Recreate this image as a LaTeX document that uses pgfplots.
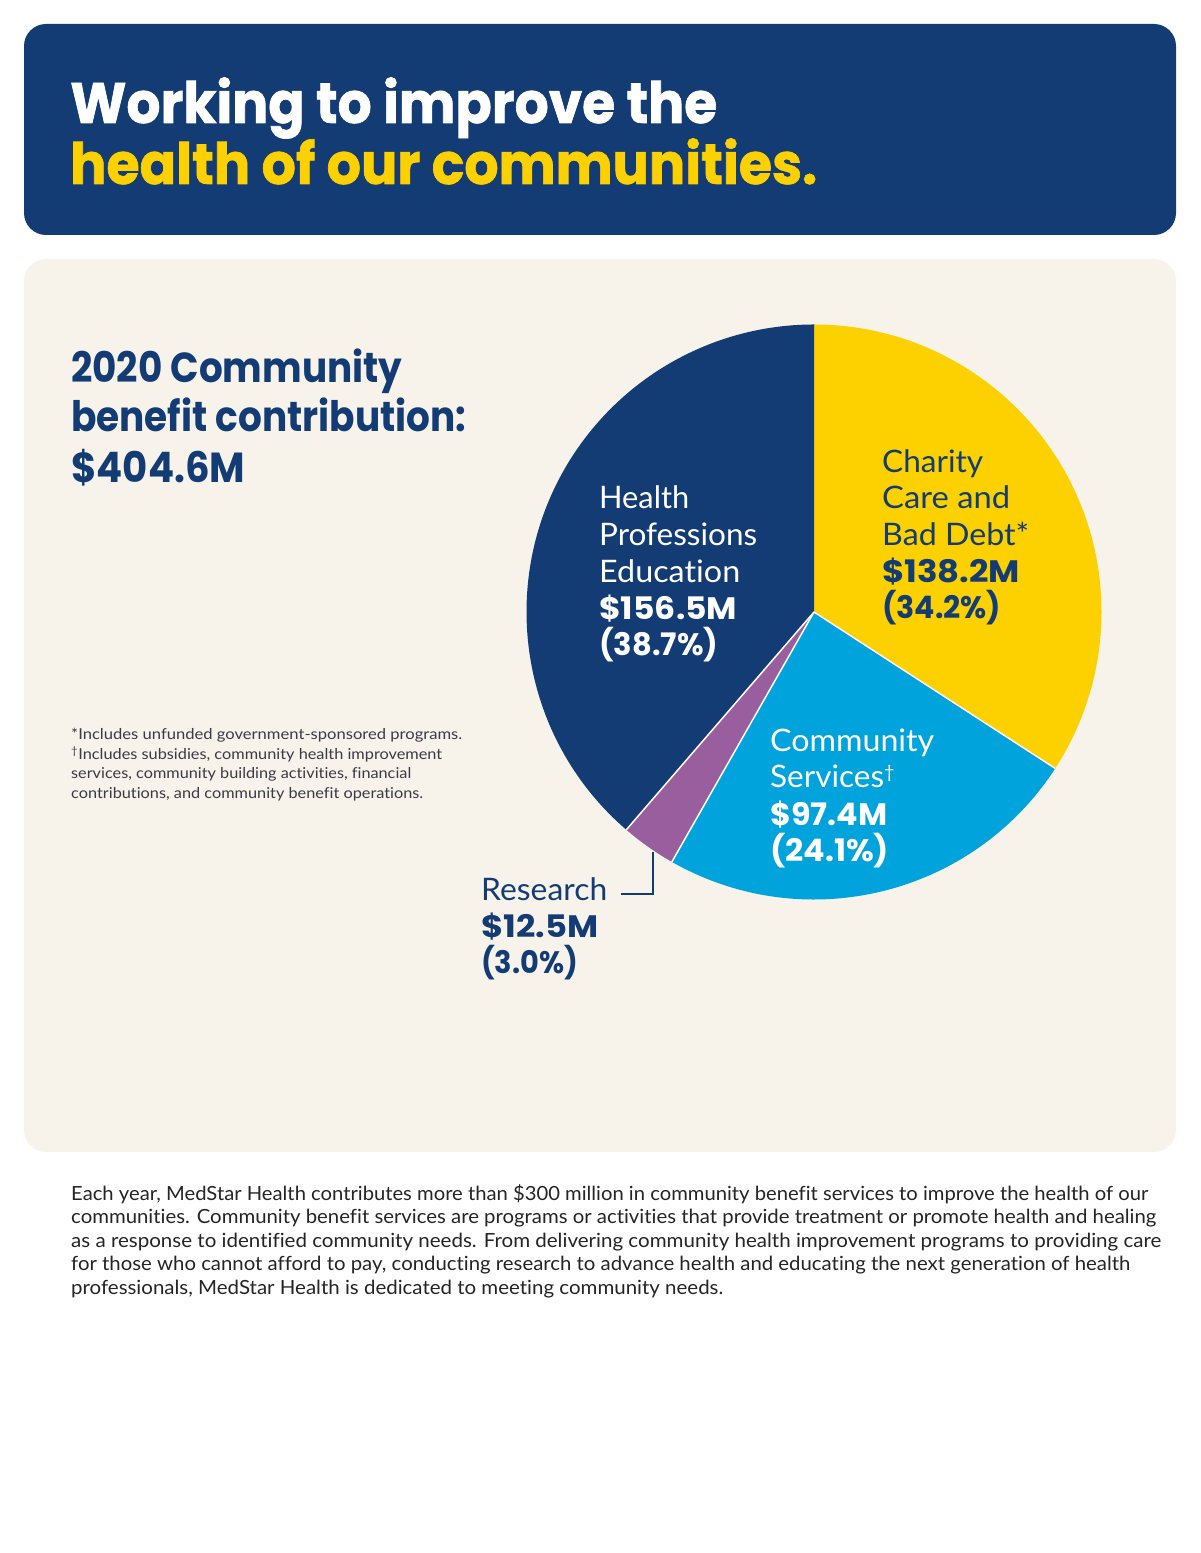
\documentclass[border=0pt]{standalone}
\usepackage{pgfplots}
\pgfplotsset{compat=1.18}
\usepackage{pgfplotstable}
\usepackage{graphicx}
\usepackage{fontspec}
\setmainfont{Lato}[Ligatures=NoCommon]
\newfontfamily\pop{Poppins}
\newfontfamily\pophead{Poppins}[BoldFeatures={FakeBold=1.2}]

\definecolor{navy}{HTML}{133C75}
\definecolor{gold}{HTML}{FDD000}
\definecolor{sky}{HTML}{00A3DC}
\definecolor{plum}{HTML}{985E9E}
\definecolor{cream}{HTML}{F7F3EA}
\definecolor{ink}{HTML}{252525}
\definecolor{note}{HTML}{3A3A48}

% font size in px (1 px = 1 pt here)
\newcommand\fs[1]{\fontsize{#1pt}{#1pt}\selectfont}
% squeeze a line to a measured width, keep its height
\newcommand\fitw[2]{\resizebox{#1pt}{\height}{#2}}
% text line: x, baseline y from the top, colour, text
\newcommand\txt[4]{\node[anchor=base west,inner sep=0pt,text=#3] at (axis cs:#1,{1553-#2}) {#4};}

% 2020 community benefit, $M
\pgfplotstableread{
name      value
Charity   138.2
Community 97.4
Research  12.5
Health    156.5
}\piedata

\begin{document}%
\pgfplotstablegetelem{0}{value}\of\piedata\let\vA\pgfplotsretval%
\pgfplotstablegetelem{1}{value}\of\piedata\let\vB\pgfplotsretval%
\pgfplotstablegetelem{2}{value}\of\piedata\let\vC\pgfplotsretval%
\pgfplotstablegetelem{3}{value}\of\piedata\let\vD\pgfplotsretval%
\pgfmathsetmacro\tot{\vA+\vB+\vC+\vD}%
\pgfmathsetmacro\aA{90-\vA/\tot*360}%
\pgfmathsetmacro\aB{\aA-\vB/\tot*360}%
\pgfmathsetmacro\aC{\aB-\vC/\tot*360}%
\pgfmathsetmacro\aD{\aC-\vD/\tot*360}%
\begin{tikzpicture}
\begin{axis}[
    scale only axis,
    width=1200pt, height=1553pt,
    xmin=0, xmax=1200, ymin=0, ymax=1553,
    hide axis, clip=false
]
% backgrounds
\fill[white] (axis cs:0,0) rectangle (axis cs:1200,1553);
\fill[navy, rounded corners=22pt] (axis cs:24,1318) rectangle (axis cs:1176,1529);
\fill[cream, rounded corners=22pt] (axis cs:24,401) rectangle (axis cs:1176,1294);

% pie slices, clockwise from the top
\fill[gold] (axis cs:814,941) -- ++(90:287.5pt) arc[start angle=90, end angle=\aA, radius=287.5pt] -- cycle;
\fill[sky]  (axis cs:814,941) -- ++(\aA:287.5pt) arc[start angle=\aA, end angle=\aB, radius=287.5pt] -- cycle;
\fill[plum] (axis cs:814,941) -- ++(\aB:287.5pt) arc[start angle=\aB, end angle=\aC, radius=287.5pt] -- cycle;
\fill[navy] (axis cs:814,941) -- ++(\aC:287.5pt) arc[start angle=\aC, end angle=\aD, radius=287.5pt] -- cycle;
\draw[white!70!cream, line width=1.5pt] (axis cs:814,941) -- ++(\aA:287.5pt);
\draw[white!70!cream, line width=1.5pt] (axis cs:814,941) -- ++(\aB:287.5pt);
\draw[white!70!cream, line width=1.5pt] (axis cs:814,941) -- ++(\aC:287.5pt);

% research leader
\draw[navy, line width=2pt] (axis cs:621,659) -- (axis cs:653,659) -- (axis cs:653,701);

% headline
\txt{70}{123}{white}{\pophead\bfseries\fs{57}\fitw{647}{Working to improve the}}
\txt{70}{184}{gold}{\pophead\bfseries\fs{57}\fitw{747}{health of our communities.}}

% total
\txt{71}{383}{navy}{\pop\bfseries\fs{42}\fitw{331}{2020 Community}}
\txt{71}{432}{navy}{\pop\bfseries\fs{42}\fitw{395}{benefit contribution:}}
\txt{71}{483}{navy}{\pop\bfseries\fs{42}\fitw{174}{\$404.6M}}

% footnotes
\txt{71}{740}{note}{\fs{15}\fitw{391}{*Includes unfunded government-sponsored programs.}}
\txt{71}{760}{note}{\fs{15}\fitw{371}{\textsuperscript{†}Includes subsidies, community health improvement}}
\txt{71}{779}{note}{\fs{15}\fitw{340}{services, community building activities, financial}}
\txt{71}{799}{note}{\fs{15}\fitw{352}{contributions, and community benefit operations.}}

% slice labels
\txt{599}{509}{white}{\fs{31}\fitw{90}{Health}}
\txt{599}{546}{white}{\fs{31}\fitw{158}{Professions}}
\txt{599}{583}{white}{\fs{31}\fitw{141}{Education}}
\txt{599}{620}{white}{\pop\bfseries\fs{31}\fitw{138}{\$156.5M}}
\txt{599}{656}{white}{\pop\bfseries\fs{31}\fitw{119}{(38.7\%)}}

\txt{882}{473}{navy}{\fs{31}\fitw{101}{Charity}}
\txt{882}{509}{navy}{\fs{31}\fitw{128}{Care and}}
\txt{882}{546}{navy}{\fs{31}\fitw{147}{Bad Debt*}}
\txt{882}{583}{navy}{\pop\bfseries\fs{31}\fitw{138}{\$138.2M}}
\txt{882}{619}{navy}{\pop\bfseries\fs{31}\fitw{119}{(34.2\%)}}

\txt{770}{752}{white}{\fs{31}\fitw{164}{Community}}
\txt{770}{788}{white}{\fs{31}\fitw{125}{Services\textsuperscript{\fs{18}†}}}
\txt{770}{826}{white}{\pop\bfseries\fs{31}\fitw{117}{\$97.4M}}
\txt{770}{862}{white}{\pop\bfseries\fs{31}\fitw{119}{(24.1\%)}}

\txt{481}{901}{navy}{\fs{31}\fitw{126}{Research}}
\txt{481}{938}{navy}{\pop\bfseries\fs{31}\fitw{117}{\$12.5M}}
\txt{481}{974}{navy}{\pop\bfseries\fs{31}\fitw{97}{(3.0\%)}}

% body text
\txt{71}{1201}{ink}{\fs{19.5}\fitw{1077}{Each year, MedStar Health contributes more than \$300 million in community benefit services to improve the health of our}}
\txt{71}{1224}{ink}{\fs{19.5}\fitw{1085}{communities. Community benefit services are programs or activities that provide treatment or promote health and healing}}
\txt{71}{1248}{ink}{\fs{19.5}\fitw{1090}{as a response to identified community needs. From delivering community health improvement programs to providing care}}
\txt{71}{1271}{ink}{\fs{19.5}\fitw{1059}{for those who cannot afford to pay, conducting research to advance health and educating the next generation of health}}
\txt{71}{1295}{ink}{\fs{19.5}\fitw{652}{professionals, MedStar Health is dedicated to meeting community needs.}}
\end{axis}
\end{tikzpicture}%
\end{document}
